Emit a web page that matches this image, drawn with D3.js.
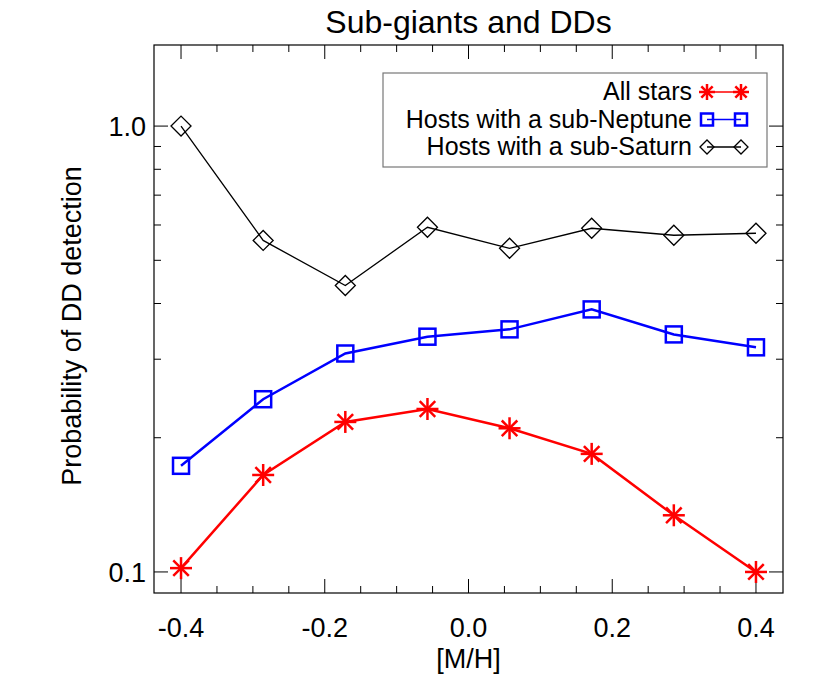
<!DOCTYPE html><html><head><meta charset="utf-8"><script src="https://cdn.jsdelivr.net/npm/d3@7"></script>
<style>body{margin:0;background:#fff}text{font-family:"Liberation Sans",Arial,sans-serif}</style></head><body>
<svg id="c" width="830" height="691"></svg>
<script>
const xVals=[-0.4,-0.2857,-0.1714,-0.0571,0.0571,0.1714,0.2857,0.4];
const allStars=[0.102,0.165,0.217,0.232,0.210,0.184,0.134,0.100];
const subNeptune=[0.173,0.244,0.309,0.337,0.350,0.388,0.341,0.319];
const subSaturn=[1.0,0.554,0.439,0.593,0.532,0.590,0.569,0.575];
const xTicks=[-0.4,-0.2,0.0,0.2,0.4];
const xTickLabels=["-0.4","-0.2","0.0","0.2","0.4"];
const yTicks=[0.1,1.0];
const yTickLabels=["0.1","1.0"];
const legendLabels=["All stars","Hosts with a sub-Neptune","Hosts with a sub-Saturn"];

const svg=d3.select("#c");
const L=154,R=783,T=45,B=593;
const x=d3.scaleLinear().domain([-0.4376,0.4376]).range([L,R]);
const y=d3.scaleLog().domain([0.0897,1.52]).range([B,T]);
const g=svg.append("g");
g.append("rect").attr("x",L).attr("y",T).attr("width",R-L).attr("height",B-T).attr("fill","none").attr("stroke","#000").attr("stroke-width",1.2);
const xMinor=d3.range(-0.4,0.4001,0.05);
xMinor.forEach(v=>{const maj=xTicks.some(t=>Math.abs(t-v)<1e-6);const len=maj?14:7;
 g.append("line").attr("x1",x(v)).attr("x2",x(v)).attr("y1",B).attr("y2",B-len).attr("stroke","#000");
 g.append("line").attr("x1",x(v)).attr("x2",x(v)).attr("y1",T).attr("y2",T+len).attr("stroke","#000");});
xTicks.forEach((v,i)=>g.append("text").attr("x",x(v)).attr("y",B+44).attr("text-anchor","middle").attr("font-size",27).text(xTickLabels[i]));
const yMinor=[0.1,0.2,0.3,0.4,0.5,0.6,0.7,0.8,0.9,1.0];
yMinor.forEach(v=>{const maj=yTicks.includes(v);const len=maj?14:7;
 g.append("line").attr("x1",L).attr("x2",L+len).attr("y1",y(v)).attr("y2",y(v)).attr("stroke","#000");
 g.append("line").attr("x1",R).attr("x2",R-len).attr("y1",y(v)).attr("y2",y(v)).attr("stroke","#000");});
yTicks.forEach((v,i)=>g.append("text").attr("x",L-8).attr("y",y(v)+10).attr("text-anchor","end").attr("font-size",27).text(yTickLabels[i]));
svg.append("text").attr("x",(L+R)/2).attr("y",33).attr("text-anchor","middle").attr("font-size",32).text("Sub-giants and DDs");
svg.append("text").attr("x",(L+R)/2).attr("y",668).attr("text-anchor","middle").attr("font-size",27).text("[M/H]");
svg.append("text").attr("transform",`translate(81,${(T+B)/2+7}) rotate(-90)`).attr("text-anchor","middle").attr("font-size",27).text("Probability of DD detection");

function marker(sel,type,cx,cy,col,s){
 if(type==="star"){const r=s;for(let a=0;a<4;a++){const t=a*Math.PI/4;
  sel.append("line").attr("x1",cx-r*Math.cos(t)).attr("x2",cx+r*Math.cos(t)).attr("y1",cy-r*Math.sin(t)).attr("y2",cy+r*Math.sin(t)).attr("stroke",col).attr("stroke-width",2.5);}}
 else if(type==="square"){sel.append("rect").attr("x",cx-s).attr("y",cy-s).attr("width",2*s).attr("height",2*s).attr("fill","none").attr("stroke",col).attr("stroke-width",2.5);}
 else {sel.append("path").attr("d",`M${cx-s},${cy}L${cx},${cy-s}L${cx+s},${cy}L${cx},${cy+s}Z`).attr("fill","none").attr("stroke",col).attr("stroke-width",1.3);}
}
const series=[{d:allStars,c:"#ff0000",w:2.5,m:"star",s:11},{d:subNeptune,c:"#0000ff",w:2.5,m:"square",s:8},{d:subSaturn,c:"#000",w:1.3,m:"diamond",s:10}];
const line=d3.line().x((d,i)=>x(xVals[i])).y(d=>y(d));
series.forEach(S=>{g.append("path").attr("d",line(S.d)).attr("fill","none").attr("stroke",S.c).attr("stroke-width",S.w);
 S.d.forEach((v,i)=>marker(g,S.m,x(xVals[i]),y(v),S.c,S.s));});
const lg=svg.append("g");
lg.append("rect").attr("x",383).attr("y",73).attr("width",384).attr("height",94).attr("fill","#fff").attr("stroke","#777").attr("stroke-width",1.2);
legendLabels.forEach((t,i)=>{const yy=92+i*27.5;const S=series[i];
 lg.append("text").attr("x",692).attr("y",yy+8).attr("text-anchor","end").attr("font-size",25).text(t);
 lg.append("line").attr("x1",707).attr("x2",741).attr("y1",yy).attr("y2",yy).attr("stroke",S.c).attr("stroke-width",1.5);
 marker(lg,S.m,707,yy,S.c,S.m==="star"?8:S.m==="square"?6:7);
 marker(lg,S.m,741,yy,S.c,S.m==="star"?8:S.m==="square"?6:7);});
</script></body></html>
